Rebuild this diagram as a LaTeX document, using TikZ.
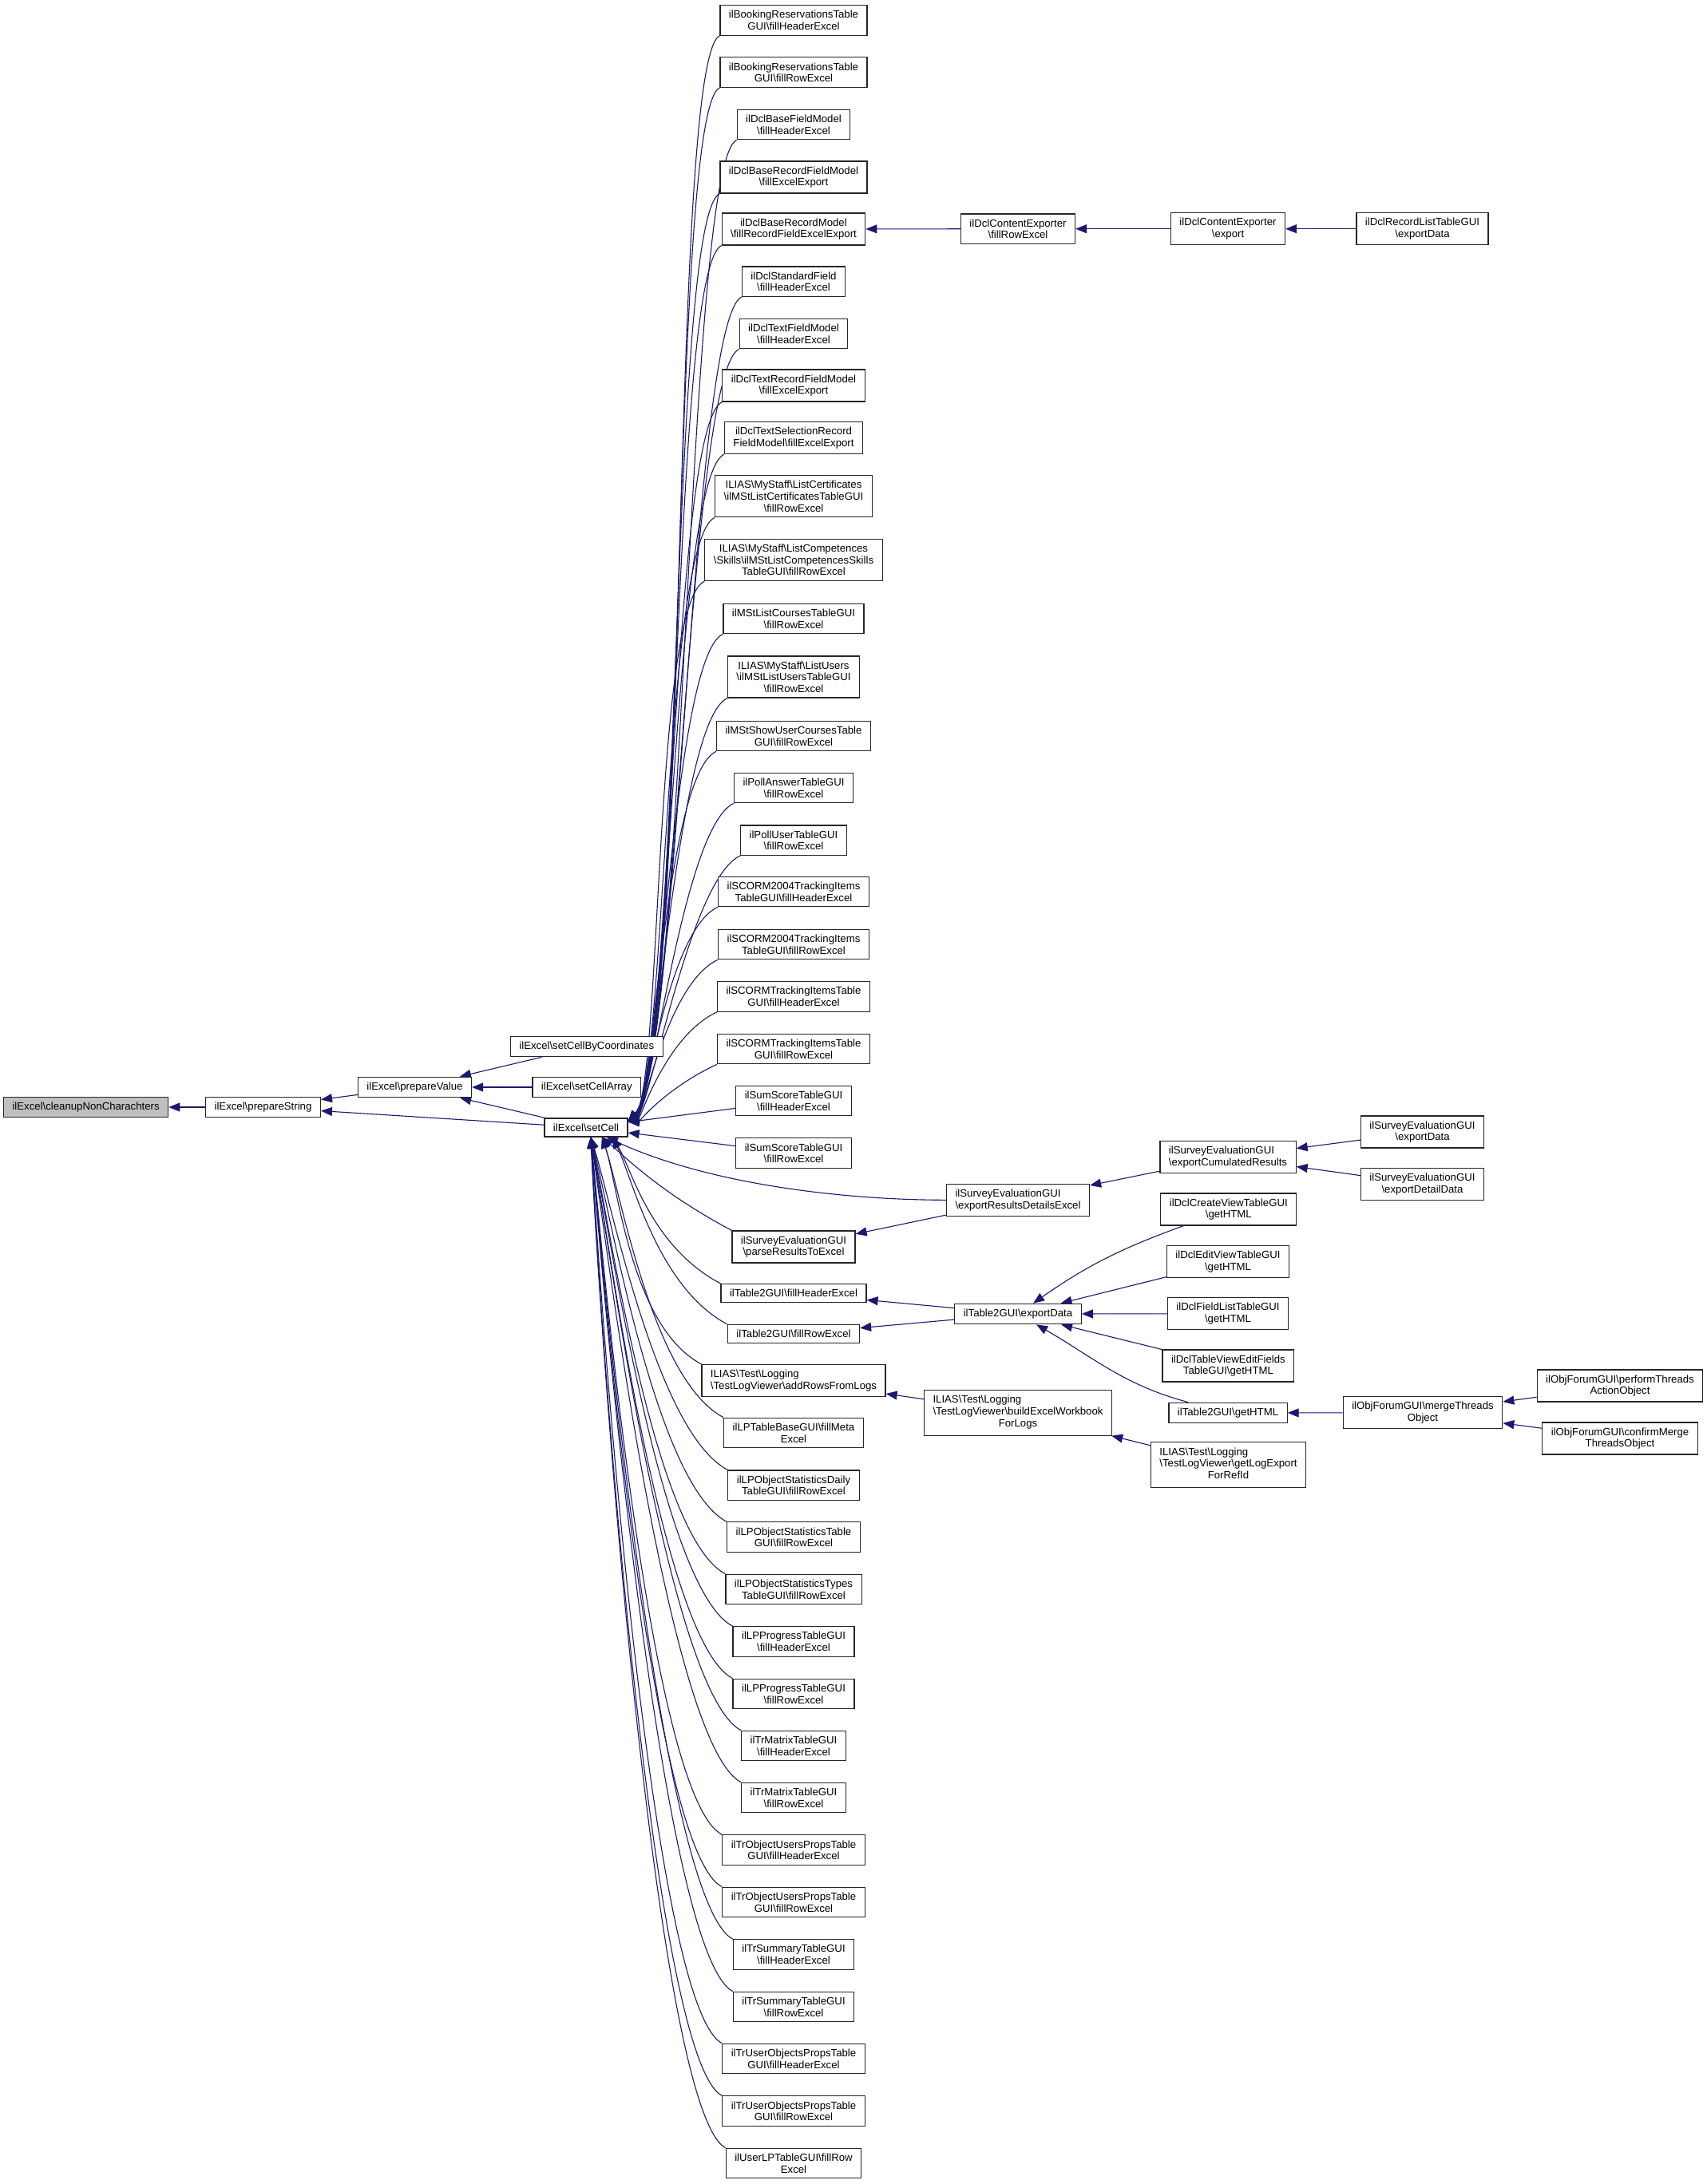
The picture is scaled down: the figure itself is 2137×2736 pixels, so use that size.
\documentclass[tikz,border=0pt]{standalone}
\usepackage{fontspec}
\setmainfont{Liberation Sans}
\usetikzlibrary{arrows.meta,calc,backgrounds}
\definecolor{edgeblue}{RGB}{25,25,112}

\begin{document}
\begin{tikzpicture}[x=1pt,y=1pt,
  fn/.style={draw=black!85, line width=1.2pt, fill=white, inner xsep=11pt, inner ysep=6.6pt,
    align=center, font=\fontsize{13.2}{14.6}\selectfont},
  fnroot/.style={fn, fill=black!25},
  call/.style={draw=edgeblue, line width=1.1pt, -{Triangle[length=14pt,width=11pt]}},
  upcall/.style={to path={.. controls ($(\tikztostart)+(205:70)$) and ($(\tikztotarget)!0.09!-35:(\tikztostart)$) .. (\tikztotarget) \tikztonodes}},
  downcall/.style={to path={.. controls ($(\tikztostart)+(152:100)$) and ($(\tikztotarget)!0.2!-5:(\tikztostart)$) .. (\tikztotarget) \tikztonodes}}]
\useasboundingbox (0,0) rectangle (2137,-2736);

% ilExcel chain
\node[fnroot] (cleanup) at (107.6,-1387) {ilExcel\textbackslash cleanupNonCharachters};
\node[fn] (prepstring) at (329.5,-1387) {ilExcel\textbackslash prepareString};
\node[fn] (prepvalue) at (519.5,-1362) {ilExcel\textbackslash prepareValue};
\node[fn] (setcellcoord) at (734.8,-1311) {ilExcel\textbackslash setCellByCoordinates};
\node[fn] (setcellarray) at (734.8,-1362) {ilExcel\textbackslash setCellArray};
\node[fn] (setcell) at (734,-1412.5) {ilExcel\textbackslash setCell};
\coordinate (setcellne) at ([yshift=-5pt]setcell.north east);
\coordinate (setcellsa) at ([xshift=6pt]setcell.south);
\coordinate (setcellsb) at ([xshift=20pt]setcell.south);
\coordinate (setcellsc) at ([xshift=33pt]setcell.south);

% callers of setCell
\node[fn] (bookhdr) at (994,-25.5) {ilBookingReservationsTable\\GUI\textbackslash fillHeaderExcel};
\node[fn] (bookrow) at (994,-90.6) {ilBookingReservationsTable\\GUI\textbackslash fillRowExcel};
\node[fn] (dclbasefield) at (994,-156) {ilDclBaseFieldModel\\\textbackslash fillHeaderExcel};
\node[fn] (dclbaserecfield) at (994,-222) {ilDclBaseRecordFieldModel\\\textbackslash fillExcelExport};
\node[fn] (dclbaserecmodel) at (994,-287) {ilDclBaseRecordModel\\\textbackslash fillRecordFieldExcelExport};
\node[fn] (dclstdfield) at (994,-352.7) {ilDclStandardField\\\textbackslash fillHeaderExcel};
\node[fn] (dcltextfield) at (994,-418) {ilDclTextFieldModel\\\textbackslash fillHeaderExcel};
\node[fn] (dcltextrec) at (994,-483) {ilDclTextRecordFieldModel\\\textbackslash fillExcelExport};
\node[fn] (dcltextsel) at (994,-548.5) {ilDclTextSelectionRecord\\FieldModel\textbackslash fillExcelExport};
\node[fn] (mstcert) at (994,-621.7) {ILIAS\textbackslash MyStaff\textbackslash ListCertificates\\\textbackslash ilMStListCertificatesTableGUI\\\textbackslash fillRowExcel};
\node[fn] (mstcomp) at (994,-701.5) {ILIAS\textbackslash MyStaff\textbackslash ListCompetences\\\textbackslash Skills\textbackslash ilMStListCompetencesSkills\\TableGUI\textbackslash fillRowExcel};
\node[fn] (mstcourses) at (994,-775) {ilMStListCoursesTableGUI\\\textbackslash fillRowExcel};
\node[fn] (mstusers) at (994,-848) {ILIAS\textbackslash MyStaff\textbackslash ListUsers\\\textbackslash ilMStListUsersTableGUI\\\textbackslash fillRowExcel};
\node[fn] (mstshowuser) at (994,-922) {ilMStShowUserCoursesTable\\GUI\textbackslash fillRowExcel};
\node[fn] (pollanswer) at (994,-987) {ilPollAnswerTableGUI\\\textbackslash fillRowExcel};
\node[fn] (polluser) at (994,-1052.7) {ilPollUserTableGUI\\\textbackslash fillRowExcel};
\node[fn] (scormfourhdr) at (994,-1117) {ilSCORM2004TrackingItems\\TableGUI\textbackslash fillHeaderExcel};
\node[fn] (scormfourrow) at (994,-1183) {ilSCORM2004TrackingItems\\TableGUI\textbackslash fillRowExcel};
\node[fn] (scormhdr) at (994,-1248.5) {ilSCORMTrackingItemsTable\\GUI\textbackslash fillHeaderExcel};
\node[fn] (scormrow) at (994,-1314) {ilSCORMTrackingItemsTable\\GUI\textbackslash fillRowExcel};
\node[fn] (sumhdr) at (994,-1379) {ilSumScoreTableGUI\\\textbackslash fillHeaderExcel};
\node[fn] (sumrow) at (994,-1444.6) {ilSumScoreTableGUI\\\textbackslash fillRowExcel};
\node[fn] (parseres) at (994,-1562) {ilSurveyEvaluationGUI\\\textbackslash parseResultsToExcel};
\node[fn] (tablehdr) at (994,-1620) {ilTable2GUI\textbackslash fillHeaderExcel};
\node[fn] (tablerow) at (994,-1671) {ilTable2GUI\textbackslash fillRowExcel};
\node[fn, align=left] (addrows) at (994,-1729.5) {ILIAS\textbackslash Test\textbackslash Logging\\\textbackslash TestLogViewer\textbackslash addRowsFromLogs};
\node[fn] (lpmeta) at (994,-1795) {ilLPTableBaseGUI\textbackslash fillMeta\\Excel};
\node[fn] (lpdaily) at (994,-1860.7) {ilLPObjectStatisticsDaily\\TableGUI\textbackslash fillRowExcel};
\node[fn] (lpstats) at (994,-1925.6) {ilLPObjectStatisticsTable\\GUI\textbackslash fillRowExcel};
\node[fn] (lptypes) at (994,-1991) {ilLPObjectStatisticsTypes\\TableGUI\textbackslash fillRowExcel};
\node[fn] (lpproghdr) at (994,-2056.5) {ilLPProgressTableGUI\\\textbackslash fillHeaderExcel};
\node[fn] (lpprogrow) at (994,-2122) {ilLPProgressTableGUI\\\textbackslash fillRowExcel};
\node[fn] (trmatrixhdr) at (994,-2187) {ilTrMatrixTableGUI\\\textbackslash fillHeaderExcel};
\node[fn] (trmatrixrow) at (994,-2252) {ilTrMatrixTableGUI\\\textbackslash fillRowExcel};
\node[fn] (trobjhdr) at (994,-2317.6) {ilTrObjectUsersPropsTable\\GUI\textbackslash fillHeaderExcel};
\node[fn] (trobjrow) at (994,-2383) {ilTrObjectUsersPropsTable\\GUI\textbackslash fillRowExcel};
\node[fn] (trsumhdr) at (994,-2448.5) {ilTrSummaryTableGUI\\\textbackslash fillHeaderExcel};
\node[fn] (trsumrow) at (994,-2514) {ilTrSummaryTableGUI\\\textbackslash fillRowExcel};
\node[fn] (truserhdr) at (994,-2579) {ilTrUserObjectsPropsTable\\GUI\textbackslash fillHeaderExcel};
\node[fn] (truserrow) at (994,-2644.6) {ilTrUserObjectsPropsTable\\GUI\textbackslash fillRowExcel};
\node[fn] (userlp) at (994,-2710) {ilUserLPTableGUI\textbackslash fillRow\\Excel};

% further callers
\node[fn] (dcefill) at (1275,-286.7) {ilDclContentExporter\\\textbackslash fillRowExcel};
\node[fn] (dceexport) at (1538,-286.7) {ilDclContentExporter\\\textbackslash export};
\node[fn] (rlexport) at (1781.5,-286.7) {ilDclRecordListTableGUI\\\textbackslash exportData};
\node[fn, align=left] (resdetails) at (1275,-1503.3) {ilSurveyEvaluationGUI\\\textbackslash exportResultsDetailsExcel};
\node[fn, align=left] (cumul) at (1538,-1449.7) {ilSurveyEvaluationGUI\\\textbackslash exportCumulatedResults};
\node[fn] (svexport) at (1781.5,-1418) {ilSurveyEvaluationGUI\\\textbackslash exportData};
\node[fn] (svdetail) at (1781.5,-1483.3) {ilSurveyEvaluationGUI\\\textbackslash exportDetailData};
\node[fn] (tableexport) at (1275,-1646) {ilTable2GUI\textbackslash exportData};
\node[fn] (createview) at (1538.8,-1515) {ilDclCreateViewTableGUI\\\textbackslash getHTML};
\node[fn] (editview) at (1538,-1580.5) {ilDclEditViewTableGUI\\\textbackslash getHTML};
\node[fn] (fieldlist) at (1538,-1645.8) {ilDclFieldListTableGUI\\\textbackslash getHTML};
\node[fn] (tvedit) at (1538.4,-1711) {ilDclTableViewEditFields\\TableGUI\textbackslash getHTML};
\node[fn] (tablehtml) at (1538,-1770) {ilTable2GUI\textbackslash getHTML};
\node[fn] (merge) at (1782,-1769.7) {ilObjForumGUI\textbackslash mergeThreads\\Object};
\node[fn] (perform) at (2029,-1736) {ilObjForumGUI\textbackslash performThreads\\ActionObject};
\node[fn] (confirm) at (2029,-1802) {ilObjForumGUI\textbackslash confirmMerge\\ThreadsObject};
\node[fn] (buildwb) at (1275,-1769.6) {\begin{tabular}{@{}l@{}}ILIAS\textbackslash Test\textbackslash Logging\\\textbackslash TestLogViewer\textbackslash buildExcelWorkbook\\\multicolumn{1}{@{}c@{}}{ForLogs}\end{tabular}};
\node[fn] (getlog) at (1538.5,-1835) {\begin{tabular}{@{}l@{}}ILIAS\textbackslash Test\textbackslash Logging\\\textbackslash TestLogViewer\textbackslash getLogExport\\\multicolumn{1}{@{}c@{}}{ForRefId}\end{tabular}};

% calls, kept behind the boxes
\begin{pgfonlayer}{background}
\draw[call] (prepstring) -- (cleanup);
\draw[call] (prepvalue) -- (prepstring);
\draw[call] (setcell) -- (prepstring);
\draw[call] (setcellcoord) -- (prepvalue);
\draw[call] (setcellarray) -- (prepvalue);
\draw[call] (setcell) -- (prepvalue);

\draw[call] (bookhdr.south west) to[upcall] (setcellne);
\draw[call] (bookrow.south west) to[upcall] (setcellne);
\draw[call] (dclbasefield.south west) to[upcall] (setcellne);
\draw[call] (dclbaserecfield.south west) to[upcall] (setcellne);
\draw[call] (dclbaserecmodel.south west) to[upcall] (setcellne);
\draw[call] (dclstdfield.south west) to[upcall] (setcellne);
\draw[call] (dcltextfield.south west) to[upcall] (setcellne);
\draw[call] (dcltextrec.south west) to[upcall] (setcellne);
\draw[call] (dcltextsel.south west) to[upcall] (setcellne);
\draw[call] (mstcert.south west) to[upcall] (setcellne);
\draw[call] (mstcomp.south west) to[upcall] (setcellne);
\draw[call] (mstcourses.south west) to[upcall] (setcellne);
\draw[call] (mstusers.south west) to[upcall] (setcellne);
\draw[call] (mstshowuser.south west) to[upcall] (setcellne);
\draw[call] (pollanswer.south west) to[upcall] (setcellne);
\draw[call] (polluser.south west) to[upcall] (setcellne);
\draw[call] (scormfourhdr.south west) to[upcall] (setcellne);
\draw[call] (scormfourrow.south west) to[upcall] (setcellne);
\draw[call] (scormhdr.south west) to[upcall] (setcellne);
\draw[call] (scormrow.south west) to[upcall] (setcellne);
\draw[call] (sumhdr) -- (setcell);
\draw[call] (sumrow) -- (setcell);
\draw[call] (resdetails) to[out=180, in=-25, looseness=0.8] (setcell);
\draw[call] (parseres.north west) to[downcall] (setcellsb);
\draw[call] (tablehdr.north west) to[downcall] (setcellsc);
\draw[call] (tablerow.north west) to[downcall] (setcellsc);
\draw[call] (addrows.north west) to[downcall] (setcellsb);
\draw[call] (lpmeta.north west) to[downcall] (setcellsb);
\draw[call] (lpdaily.north west) to[downcall] (setcellsa);
\draw[call] (lpstats.north west) to[downcall] (setcellsa);
\draw[call] (lptypes.north west) to[downcall] (setcellsa);
\draw[call] (lpproghdr.north west) to[downcall] (setcellsa);
\draw[call] (lpprogrow.north west) to[downcall] (setcellsa);
\draw[call] (trmatrixhdr.north west) to[downcall] (setcellsa);
\draw[call] (trmatrixrow.north west) to[downcall] (setcellsa);
\draw[call] (trobjhdr.north west) to[downcall] (setcellsa);
\draw[call] (trobjrow.north west) to[downcall] (setcellsa);
\draw[call] (trsumhdr.north west) to[downcall] (setcellsa);
\draw[call] (trsumrow.north west) to[downcall] (setcellsa);
\draw[call] (truserhdr.north west) to[downcall] (setcellsa);
\draw[call] (truserrow.north west) to[downcall] (setcellsa);
\draw[call] (userlp.north west) to[downcall] (setcellsa);

\draw[call] (dcefill) -- (dclbaserecmodel);
\draw[call] (dceexport) -- (dcefill);
\draw[call] (rlexport) -- (dceexport);
\draw[call] (cumul) -- (resdetails);
\draw[call] (svexport) -- (cumul);
\draw[call] (svdetail) -- (cumul);
\draw[call] (resdetails) -- (parseres);
\draw[call] (tableexport) -- (tablehdr);
\draw[call] (tableexport) -- (tablerow);
\draw[call] (createview) to[out=200, in=35] (tableexport);
\draw[call] (editview) -- (tableexport);
\draw[call] (fieldlist) -- (tableexport);
\draw[call] (tvedit) -- (tableexport);
\draw[call] (tablehtml) to[out=165, in=-30] (tableexport);
\draw[call] (merge) -- (tablehtml);
\draw[call] (perform) -- (merge);
\draw[call] (confirm) -- (merge);
\draw[call] (buildwb) -- (addrows);
\draw[call] (getlog) -- (buildwb);
\end{pgfonlayer}
\end{tikzpicture}
\end{document}
